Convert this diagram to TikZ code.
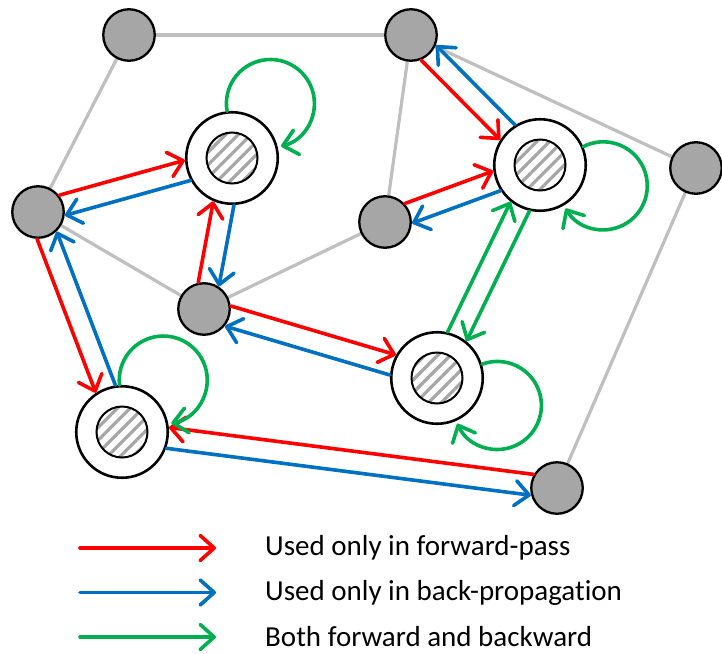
\documentclass[tikz,border=0pt]{standalone}
\usepackage{fontspec}
\setmainfont{Carlito}[Ligatures={NoCommon}]
\usetikzlibrary{
  arrows.meta,
  backgrounds,
  calc,
  patterns.meta
}
\definecolor{fwdred}{RGB}{255,0,0}
\definecolor{bwdblue}{RGB}{0,112,192}
\definecolor{bothgreen}{RGB}{0,176,80}
\definecolor{nodegray}{RGB}{166,166,166}
\definecolor{edgegray}{RGB}{191,191,191}
\tikzset{
  >={Straight Barb[length=14pt,width=25pt,round]},
  link/.style={draw=edgegray,line width=3.2pt},
  fwd/.style={->,draw=fwdred,line width=3.6pt,line cap=round},
  bwd/.style={->,draw=bwdblue,line width=3.6pt,line cap=round},
  both/.style={->,draw=bothgreen,line width=3.6pt,line cap=round},
  plain/.style={
    circle,
    draw=black,
    fill=nodegray,
    line width=2.3pt,
    minimum size=51.5pt,
    inner sep=0pt
  },
  cell/.style={
    circle,
    draw=black,
    fill=white,
    line width=2.6pt,
    minimum size=91.5pt,
    inner sep=0pt,
    path picture={
      \draw[black,line width=2pt,pattern color=nodegray,
        pattern={Lines[angle=45,distance=9pt,line width=3.2pt]}]
        (path picture bounding box.center) circle[radius=25.5pt];
    }
  },
  legend/.style={font=\fontsize{29}{34}\selectfont,anchor=west,inner sep=0pt}
}
% #1/#2 styles, #3 -> #4 and back, #5 side, #6/#7 shortening at #3/#4
\newcommand{\twoway}[7]{%
  \pgfmathsetmacro{\otherside}{-#5}%
  \draw[#1,shorten <=#6,shorten >=#7] ($(#3)!10.5pt!#5:(#4)$) -- ($(#4)!10.5pt!\otherside:(#3)$);%
  \draw[#2,shorten <=#7,shorten >=#6] ($(#4)!10.5pt!#5:(#3)$) -- ($(#3)!10.5pt!\otherside:(#4)$);%
}
\newcommand{\selfloop}[2]{%
  \pgfmathtruncatemacro{\loopfrom}{#2+41}%
  \pgfmathsetmacro{\loopstart}{#2+134.5}%
  \pgfmathsetmacro{\loopend}{#2-131.5}%
  \draw[both] (#1.\loopfrom) arc[start angle=\loopstart,end angle=\loopend,radius=44pt];%
}

\begin{document}
\begin{tikzpicture}[x=1pt,y=1pt]
  \useasboundingbox (0,0) rectangle (722,-653);

  % plain nodes
  \node[plain] (G1) at (129,-35) {};
  \node[plain] (G2) at (411,-35) {};
  \node[plain] (G3) at (38,-212) {};
  \node[plain] (G4) at (385,-222) {};
  \node[plain] (G5) at (204,-309) {};
  \node[plain] (G6) at (696,-168) {};
  \node[plain] (G7) at (557,-488) {};

  % memory cells
  \node[cell] (R1) at (232,-158) {};
  \node[cell] (R2) at (540,-165) {};
  \node[cell] (R3) at (437,-378) {};
  \node[cell] (R4) at (122,-432) {};

  \begin{scope}[on background layer]
    \foreach \a/\b in {G1/G2,G1/G3,G3/G5,G5/G4,G4/G2,G2/G6,G6/G7}
      \draw[link] (\a) -- (\b);
  \end{scope}

  \twoway{fwd}{bwd}{G3}{R1}{90}{25pt}{46pt}
  \twoway{fwd}{bwd}{G3}{R4}{-90}{25pt}{46pt}
  \twoway{fwd}{bwd}{G5}{R1}{90}{25pt}{46pt}
  \twoway{fwd}{bwd}{G5}{R3}{90}{25pt}{46pt}
  \twoway{fwd}{bwd}{G7}{R4}{-90}{25pt}{46pt}
  \twoway{fwd}{bwd}{G4}{R2}{90}{25pt}{46pt}
  \twoway{fwd}{bwd}{G2}{R2}{-90}{25pt}{46pt}
  \twoway{both}{both}{R3}{R2}{90}{46pt}{46pt}

  \selfloop{R1}{55.6}
  \selfloop{R2}{-17.5}
  \selfloop{R3}{-24}
  \selfloop{R4}{52}

  % legend
  \foreach \kind/\txt [count=\i] in {fwd/Used only in forward-pass,
      bwd/Used only in back-propagation,both/Both forward and backward} {
    \node[legend] (key\i) at (265,{-548-44.5*(\i-1)}) {\txt};
    \coordinate (keystart\i) at (80,{-548-44.5*(\i-1)});
    \draw[\kind] (keystart\i) -- ([xshift=-49pt]key\i.west);
  }
\end{tikzpicture}
\end{document}
